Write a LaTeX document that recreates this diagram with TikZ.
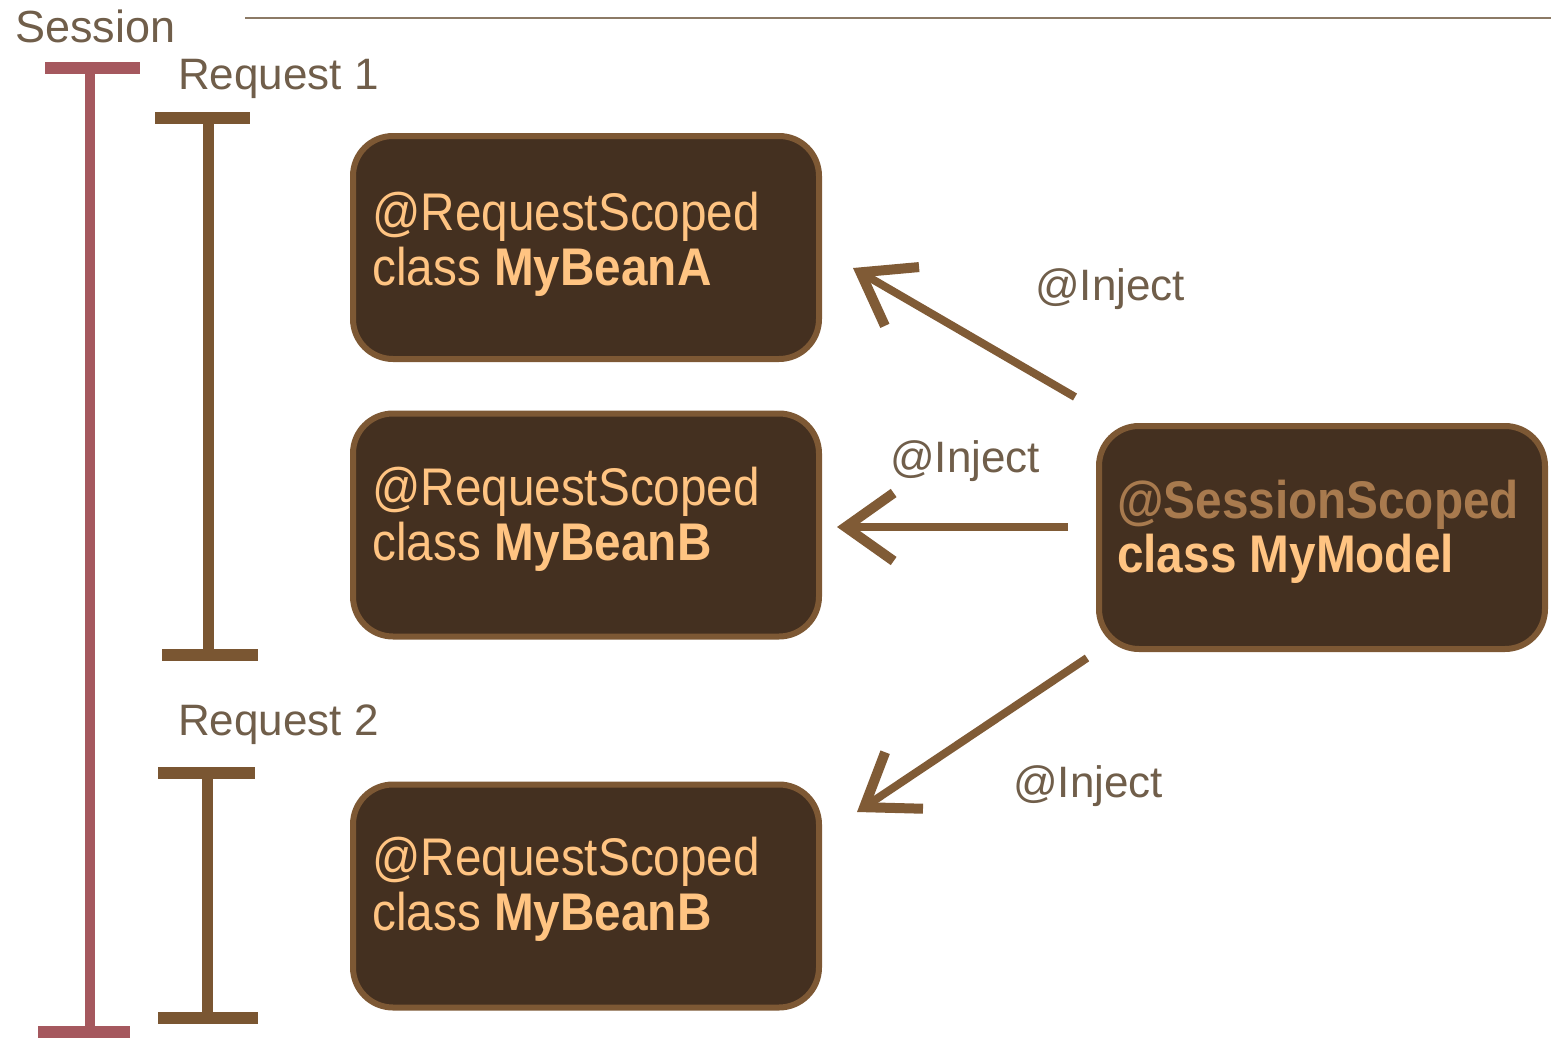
\documentclass[tikz,border=0pt]{standalone}
\usepackage{fontspec}
\setmainfont{Liberation Sans}
\newfontfamily\boxfont[FakeStretch=0.9]{Liberation Sans}
\usetikzlibrary{arrows.meta}
\definecolor{lblc}{RGB}{112,94,74}
\definecolor{boxfill}{RGB}{68,48,32}
\definecolor{boxedge}{RGB}{125,88,52}
\definecolor{btext}{RGB}{255,196,130}
\definecolor{stext}{RGB}{168,122,78}
\definecolor{arrowc}{RGB}{128,91,54}
\definecolor{sessbar}{RGB}{165,88,94}
\definecolor{reqbar}{RGB}{122,86,50}
\definecolor{toplinec}{RGB}{140,122,102}
\begin{document}
\begin{tikzpicture}[x=1pt,y=-1pt,
  lbl/.style={font=\fontsize{44}{50}\selectfont, text=lblc, inner sep=0pt, anchor=base west},
  bean/.style={draw=boxedge, line width=6pt, fill=boxfill, rounded corners=40pt, minimum width=466pt, minimum height=223pt, inner sep=0pt},
  btxt/.style={font=\boxfont\fontsize{53}{58}\selectfont, text=btext, inner sep=0pt, anchor=base west},
  inj/.style={draw=arrowc, line width=8pt, -{Straight Barb[length=48pt,width=68pt,line width=10pt]}},
  sbar/.style={draw=sessbar, line width=10pt},
  scap/.style={draw=sessbar, line width=12pt},
  rbar/.style={draw=reqbar, line width=11pt},
  rcap/.style={draw=reqbar, line width=12pt}]
\useasboundingbox (0,0) rectangle (1551,1041);

% top rule
\draw[toplinec, line width=1.5pt] (245,18) -- (1551,18);

% labels
\node[lbl, font=\fontsize{45}{50}\selectfont] (lsession) at (15,43) {Session};
\node[lbl] (lreq1) at (178,90) {Request 1};
\node[lbl] (lreq2) at (178,735) {Request 2};

% session bar
\draw[sbar] (90,68) -- (90,1032);
\draw[scap] (45,68) -- (140,68);
\draw[scap] (38,1032) -- (130,1032);

% request 1 bar
\draw[rbar] (208,118) -- (208,655);
\draw[rcap] (155,118) -- (250,118);
\draw[rcap] (162,655) -- (258,655);

% request 2 bar
\draw[rbar] (207,773) -- (207,1018);
\draw[rcap] (158,773) -- (255,773);
\draw[rcap] (158,1018) -- (258,1018);

% boxes
\node[bean] (beanA) at (586,247.5) {};
\node[bean] (beanB1) at (586,525) {};
\node[bean] (beanB2) at (586,896) {};
\node[bean, minimum width=446pt] (model) at (1322,537.5) {};

\node[btxt] (aT1) at (372,230) {@RequestScoped};
\node[btxt] (aT2) at (372,285) {class \textbf{MyBeanA}};
\node[btxt] (bT1) at (372,505) {@RequestScoped};
\node[btxt] (bT2) at (372,560) {class \textbf{MyBeanB}};
\node[btxt] (cT1) at (372,875) {@RequestScoped};
\node[btxt] (cT2) at (372,930) {class \textbf{MyBeanB}};
\node[btxt, text=stext] (mT1) at (1117,518) {\textbf{@SessionScoped}};
\node[btxt] (mT2) at (1117,572) {\textbf{class MyModel}};

% arrows
\coordinate (t1) at (1075,397); \coordinate (h1) at (853,268);
\coordinate (t2) at (1068,527); \coordinate (h2) at (837,527);
\coordinate (t3) at (1087,658); \coordinate (h3) at (857,812);
\draw[inj] (t1) -- (h1);
\draw[inj] (t2) -- (h2);
\draw[inj] (t3) -- (h3);

\node[lbl] (inj1) at (1035,300) {@Inject};
\node[lbl] (inj2) at (890,472) {@Inject};
\node[lbl] (inj3) at (1013,797) {@Inject};
\end{tikzpicture}
\end{document}
